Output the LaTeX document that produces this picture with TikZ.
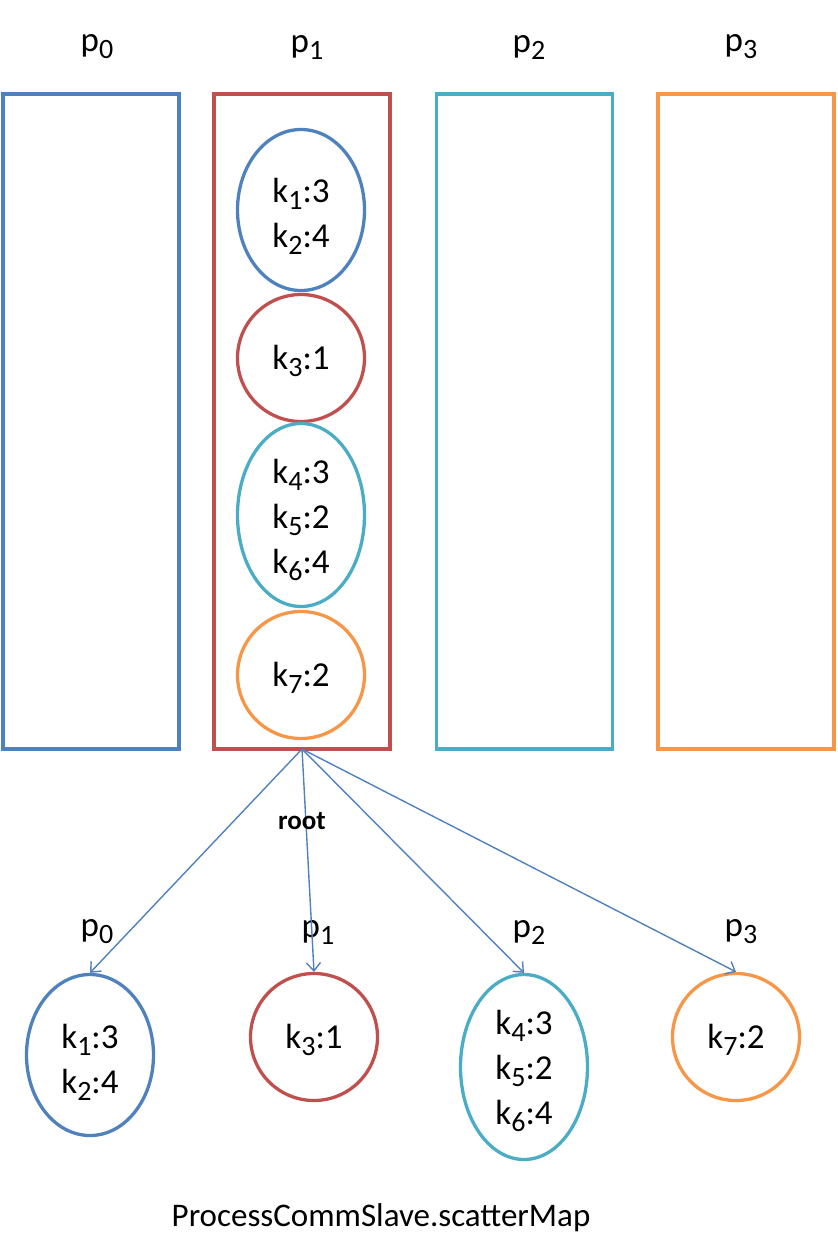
\documentclass[tikz,border=0pt]{standalone}
\usepackage{fontspec}
\setmainfont{Carlito}
\usetikzlibrary{shapes.geometric,arrows.meta}
\definecolor{cblue}{HTML}{4F81BD}
\definecolor{cred}{HTML}{C0504D}
\definecolor{ccyan}{HTML}{4BACC6}
\definecolor{corange}{HTML}{F79646}
\newcommand\sbs[1]{\raisebox{-0.2em}{\fontsize{28}{28}\selectfont #1}}
\newcommand\kfont{\fontsize{35}{45}\selectfont}
\tikzset{
  procbox/.style={draw=#1, line width=3.3pt, minimum width=176pt, minimum height=655pt, inner sep=0pt, outer sep=0pt},
  keyset/.style={ellipse, draw=#1, line width=3.3pt, inner sep=0pt, minimum width=127pt},
  keytext/.style={align=center, font=\kfont, inner sep=0pt},
  plabel/.style={font=\kfont, inner sep=0pt},
  sendarrow/.style={draw=cblue, line width=1.4pt, -{Straight Barb[length=8pt,width=14pt]}}
}
\begin{document}
\begin{tikzpicture}[x=1pt,y=-1pt]
\useasboundingbox (0,0) rectangle (838,1245);
% process columns
\node[procbox=cblue]   (P0) at (91,421.5) {};
\node[procbox=cred]    (P1) at (302,421.5) {};
\node[procbox=ccyan]   (P2) at (524.5,421.5) {};
\node[procbox=corange] (P3) at (746,421.5) {};
\node[plabel] (l0) at (97,47) {p\sbs{0}};
\node[plabel] (l1) at (307,47) {p\sbs{1}};
\node[plabel] (l2) at (529,47) {p\sbs{2}};
\node[plabel] (l3) at (741,47) {p\sbs{3}};
% map inside p1
\node[keyset=cblue,   minimum height=161pt] (E1) at (301,210) {};
\node[keyset=cred,    minimum height=127pt] (E2) at (301,358) {};
\node[keyset=ccyan,   minimum height=183pt] (E3) at (301,515) {};
\node[keyset=corange, minimum height=127pt] (E4) at (301,675) {};
\node[keytext] (T1) at (301,216) {k\sbs{1}:3\\k\sbs{2}:4};
\node[keytext] (T2) at (301,361) {k\sbs{3}:1};
\node[keytext] (T3) at (301,520) {k\sbs{4}:3\\k\sbs{5}:2\\k\sbs{6}:4};
\node[keytext] (T4) at (301,678) {k\sbs{7}:2};
% scattered parts
\node[plabel] (m0) at (97,932) {p\sbs{0}};
\node[plabel] (m1) at (318,932) {p\sbs{1}};
\node[plabel] (m2) at (529,932) {p\sbs{2}};
\node[plabel] (m3) at (741,932) {p\sbs{3}};
\node[keyset=cblue,   minimum height=161pt] (B0) at (90,1055) {};
\node[keyset=cred,    minimum height=127pt] (B1) at (314,1037) {};
\node[keyset=ccyan,   minimum height=185pt] (B2) at (524,1067) {};
\node[keyset=corange, minimum height=127pt] (B3) at (736,1037) {};
\node[keytext] (U0) at (90,1062) {k\sbs{1}:3\\k\sbs{2}:4};
\node[keytext] (U1) at (314,1040) {k\sbs{3}:1};
\node[keytext] (U2) at (524,1071) {k\sbs{4}:3\\k\sbs{5}:2\\k\sbs{6}:4};
\node[keytext] (U3) at (736,1040) {k\sbs{7}:2};
% arrows
\coordinate (src) at (P1.south);
\draw[sendarrow] (src) -- (B0.north);
\draw[sendarrow] (src) -- (B1.north);
\draw[sendarrow] (src) -- (B2.north);
\draw[sendarrow] (src) -- (B3.north);
\node[font=\bfseries\fontsize{27}{27}\selectfont, inner sep=0pt] (root) at (302,821) {root};
\node[font=\fontsize{33}{33}\selectfont, inner sep=0pt] (cap) at (381,1218) {ProcessCommSlave.scatterMap};
\end{tikzpicture}
\end{document}
